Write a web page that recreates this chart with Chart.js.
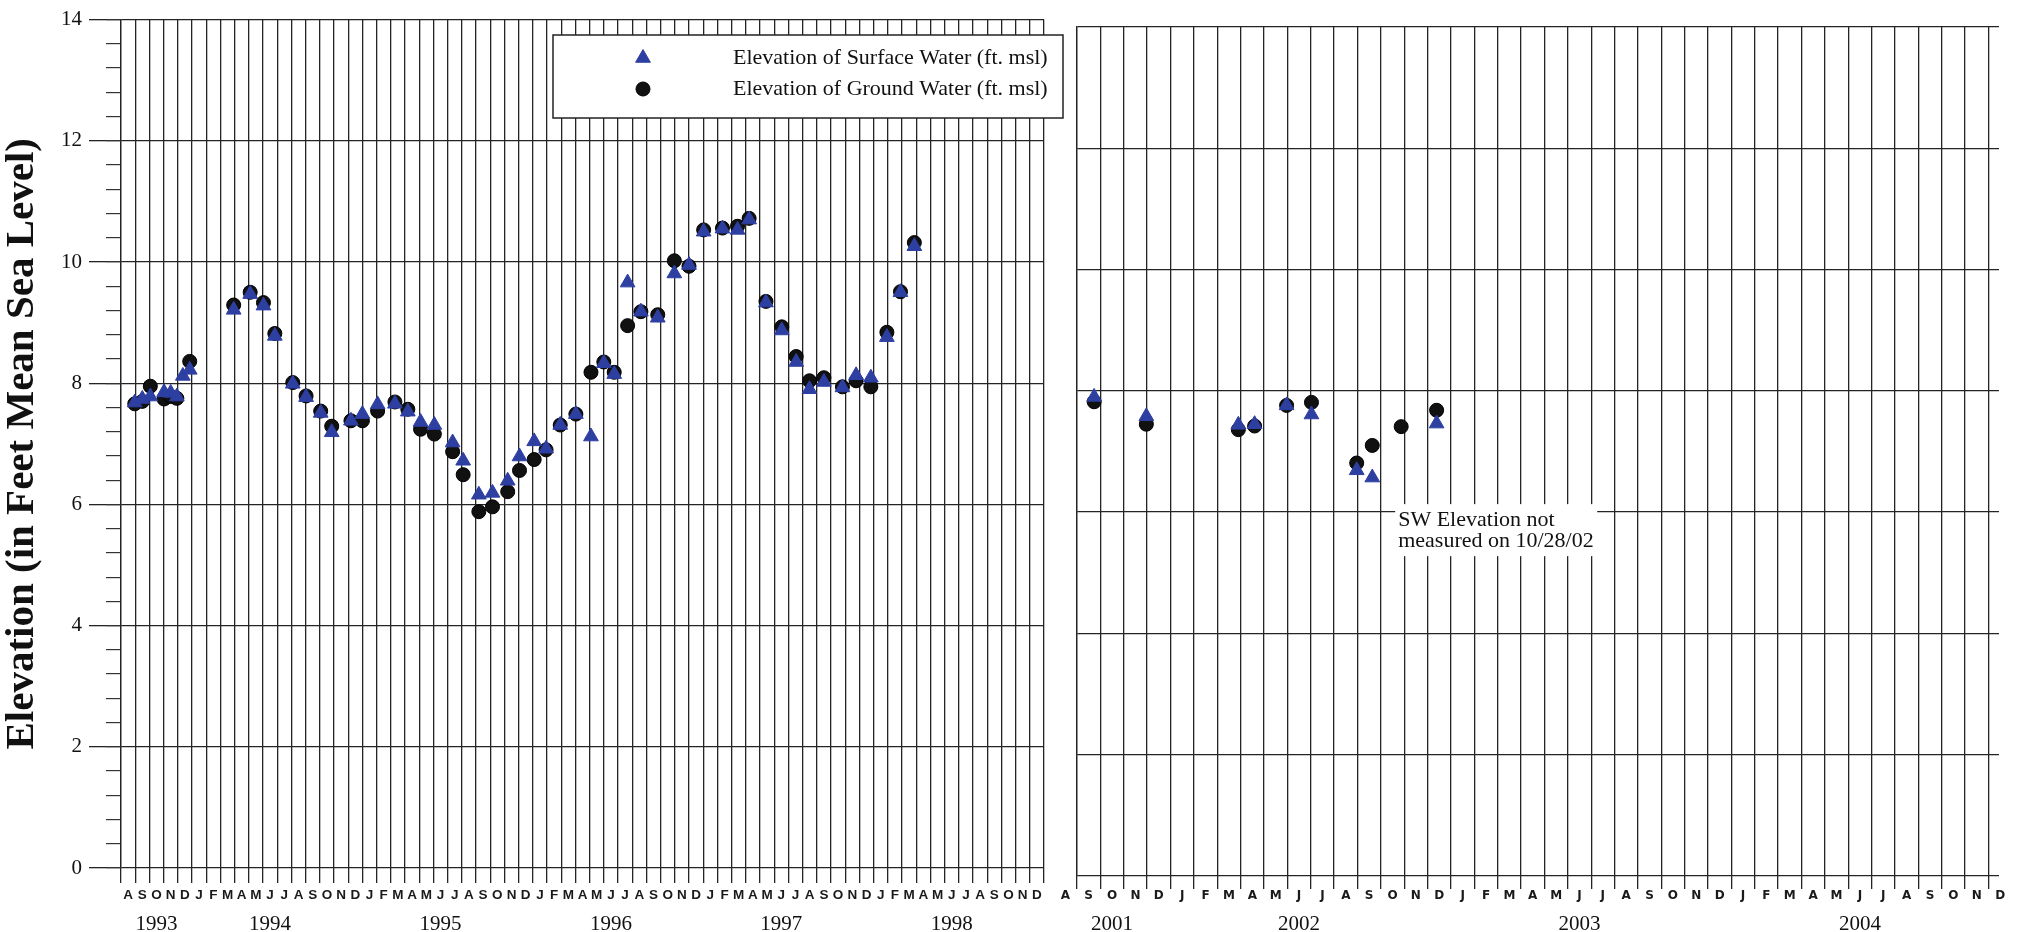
<!DOCTYPE html>
<html>
<head>
<meta charset="utf-8">
<script src="https://cdn.jsdelivr.net/npm/chart.js@4.4.1/dist/chart.umd.min.js"></script>
<style>
html,body{margin:0;padding:0;background:#fff;}
#wrap{position:relative;width:2017px;height:932px;overflow:hidden;background:#fff;}
#c1{position:absolute;left:0;top:0;}
#c2{position:absolute;left:1040px;top:0;}
</style>
</head>
<body>
<div id="wrap">
<canvas id="c1" width="1075" height="932"></canvas>
<canvas id="c2" width="977" height="932"></canvas>
</div>
<script>
// ================= DATA =================
const seriesLabels = ['Elevation of Surface Water (ft. msl)', 'Elevation of Ground Water (ft. msl)'];
const yAxisTitle = 'Elevation (in Feet Mean Sea Level)';
const monthLetters = ['J','F','M','A','M','J','J','A','S','O','N','D'];
const yMin = 0, yMax = 14, yStep = 2, yMinorStep = 0.4;

// Panel 1: Aug 1993 – Dec 1998
const p1Origin = '1993-08';
const p1MonthCount = 65;
const p1Years = ['1993', '1994', '1995', '1996', '1997', '1998'];
const p1YearMonths = ['1993-10', '1994-06', '1995-06', '1996-06', '1997-06', '1998-06'];
const p1Dates = [
  '1993-08-31','1993-09-16','1993-10-03','1993-11-02','1993-11-16','1993-11-29','1993-12-12','1993-12-27',
  '1994-03-30','1994-05-04','1994-06-02','1994-06-26','1994-08-04','1994-09-02','1994-10-03','1994-10-27','1994-12-07',
  '1995-01-01','1995-02-03','1995-03-10','1995-04-07','1995-05-04','1995-06-03','1995-07-12','1995-08-04','1995-09-07','1995-10-06','1995-11-08','1995-12-03',
  '1996-01-04','1996-01-30','1996-02-28','1996-04-02','1996-05-04','1996-06-01','1996-06-23','1996-07-22','1996-08-20','1996-09-25','1996-10-31','1996-12-01',
  '1997-01-02','1997-02-11','1997-03-14','1997-04-08','1997-05-14','1997-06-17','1997-07-18','1997-08-16','1997-09-16','1997-10-26','1997-11-24','1997-12-26',
  '1998-01-30','1998-02-26','1998-03-28'
];
const p1Surface = [
  7.68, 7.74, 7.78, 7.85, 7.84, 7.78, 8.12, 8.22,
  9.21, 9.47, 9.28, 8.78, 7.99, 7.77, 7.51, 7.19, 7.38,
  7.49, 7.65, 7.66, 7.53, 7.36, 7.31, 7.02, 6.72, 6.16, 6.19, 6.39, 6.79,
  7.04, 6.92, 7.31, 7.49, 7.12, 8.33, 8.15, 9.66, 9.18, 9.08, 9.81, 9.95,
  10.50, 10.55, 10.53, 10.70, 9.33, 8.87, 8.35, 7.90, 8.02, 7.93, 8.13, 8.09,
  8.76, 9.50, 10.26
];
const p1Ground = [
  7.66, 7.70, 7.95, 7.74, 7.78, 7.75, null, 8.36,
  9.29, 9.50, 9.33, 8.82, 8.01, 7.79, 7.54, 7.29, 7.38,
  7.38, 7.54, 7.69, 7.57, 7.24, 7.16, 6.87, 6.49, 5.88, 5.96, 6.21, 6.56,
  6.74, 6.90, 7.31, 7.49, 8.18, 8.35, 8.18, 8.95, 9.18, 9.13, 10.02, 9.93,
  10.53, 10.56, 10.59, 10.72, 9.35, 8.93, 8.44, 8.04, 8.09, 7.94, 8.04, 7.94,
  8.84, 9.51, 10.32
];

// Panel 2: Aug 2001 – Dec 2004
const p2Origin = '2001-08';
const p2MonthCount = 41;
const p2Years = ['2001', '2002', '2003', '2004'];
const p2YearMonths = ['2001-10', '2002-06', '2003-06', '2004-06'];
const p2Dates = ['2001-09-23','2001-11-30','2002-03-29','2002-04-19','2002-05-31','2002-07-02','2002-08-31','2002-09-20','2002-10-28','2002-12-13'];
const p2Surface = [7.90, 7.58, 7.44, 7.45, 7.76, 7.61, 6.69, 6.57, null, 7.46];
const p2Ground  = [7.82, 7.45, 7.36, 7.42, 7.76, 7.81, 6.81, 7.10, 7.41, 7.68];
const noteLines = ['SW Elevation not', 'measured on 10/28/02'];
const noteDate = '2002-10-28';
const noteLevel = 6;

// ================= HELPERS =================
const SW_COLOR = '#2e3fa2';
const GW_COLOR = '#111111';
const GRID = '#242424';

function monthsFrom(origin, s) {
  const [oy, om] = origin.split('-').map(Number);
  const p = s.split('-').map(Number);
  const dim = new Date(p[0], p[1], 0).getDate();
  const d = p.length > 2 ? p[2] : 1;
  return (p[0] - oy) * 12 + (p[1] - om) + (d - 1) / dim;
}
function monthTicks(origin, count) {
  const om = Number(origin.split('-')[1]) - 1;
  const vals = [], labs = [];
  for (let i = 0; i < count; i++) { vals.push(i + 0.5); labs.push(monthLetters[(om + i) % 12]); }
  return {vals, labs};
}
function makeDatasets(origin, dates, sw, gw) {
  const pts = vals => dates.map((d, i) => vals[i] == null ? null : {x: monthsFrom(origin, d), y: vals[i]}).filter(Boolean);
  return [
    {label: seriesLabels[0], data: pts(sw), pointStyle: 'triangle', pointRadius: 8.5,
     backgroundColor: SW_COLOR, borderColor: SW_COLOR, borderWidth: 1},
    {label: seriesLabels[1], data: pts(gw), pointStyle: 'circle', pointRadius: 7,
     backgroundColor: GW_COLOR, borderColor: '#000', borderWidth: 1}
  ];
}

const legendPlugin = {
  id: 'boxLegend',
  afterDraw(chart) {
    const ctx = chart.ctx;
    const x0 = 553, y0 = 35, w = 510, h = 83;
    ctx.save();
    ctx.fillStyle = '#fff';
    ctx.fillRect(x0, y0, w, h);
    ctx.strokeStyle = '#222';
    ctx.lineWidth = 1.5;
    ctx.strokeRect(x0, y0, w, h);
    chart.data.datasets.forEach((ds, i) => {
      const cy = y0 + 23 + i * 31;
      ctx.fillStyle = ds.backgroundColor;
      ctx.strokeStyle = ds.borderColor;
      ctx.lineWidth = 1;
      Chart.helpers.drawPoint(ctx, {pointStyle: ds.pointStyle, rotation: 0, radius: ds.pointRadius, borderWidth: 1}, 643, cy);
      ctx.fillStyle = '#111';
      ctx.font = '22px "Liberation Serif"';
      ctx.textBaseline = 'middle';
      ctx.textAlign = 'left';
      ctx.fillText(ds.label, 733, cy);
    });
    ctx.restore();
  }
};

const notePlugin = {
  id: 'note',
  beforeDatasetsDraw(chart) {
    const {ctx, scales} = chart;
    const px = scales.x.getPixelForValue(monthsFrom(p2Origin, noteDate)) - 3;
    const py = scales.y.getPixelForValue(noteLevel);
    ctx.save();
    ctx.fillStyle = '#fff';
    ctx.fillRect(px - 3, py - 8, 202, 52);
    ctx.fillStyle = '#111';
    ctx.font = '22px "Liberation Serif"';
    ctx.textBaseline = 'middle';
    ctx.textAlign = 'left';
    noteLines.forEach((t, i) => ctx.fillText(t, px, py + 8 + i * 21));
    ctx.restore();
  }
};

// ================= PANEL 1 =================
const p1T = monthTicks(p1Origin, p1MonthCount);
const p1YearTicks = p1YearMonths.map(m => monthsFrom(p1Origin, m) + 0.5);

new Chart(document.getElementById('c1'), {
  type: 'scatter',
  data: {datasets: makeDatasets(p1Origin, p1Dates, p1Surface, p1Ground)},
  options: {
    responsive: false, animation: false, devicePixelRatio: 1, events: [],
    layout: {padding: {top: 15, right: 31, left: 0, bottom: 0}},
    plugins: {legend: {display: false}, tooltip: {enabled: false}},
    scales: {
      x: {
        type: 'linear', position: 'bottom', min: 0, max: p1MonthCount, weight: 0,
        afterBuildTicks: s => { s.ticks = p1T.vals.map(v => ({value: v})); },
        ticks: {autoSkip: false, maxRotation: 0, padding: 4, color: '#1a1a1a',
                font: {family: 'Liberation Sans', size: 13.5, weight: 'bold'},
                callback: (v, i) => p1T.labs[i]},
        grid: {offset: true, color: GRID, lineWidth: 1.3, tickLength: 15, tickColor: GRID, tickWidth: 1.3},
        border: {display: false},
        afterFit: s => { s.height = 36; }
      },
      x2: {
        type: 'linear', axis: 'x', position: 'bottom', min: 0, max: p1MonthCount, weight: 1,
        afterBuildTicks: s => { s.ticks = p1YearTicks.map(v => ({value: v})); },
        ticks: {autoSkip: false, maxRotation: 0, padding: 0, color: '#111',
                font: {family: 'Liberation Serif', size: 21},
                callback: (v, i) => p1Years[i]},
        grid: {display: false}, border: {display: false},
        afterFit: s => { s.height = 28; }
      },
      y: {
        type: 'linear', position: 'left', min: yMin, max: yMax, weight: 1,
        ticks: {stepSize: yStep, padding: 7, color: '#111', font: {family: 'Liberation Serif', size: 21}},
        grid: {color: GRID, lineWidth: 1.3, tickLength: 32, tickColor: GRID},
        border: {display: true, color: GRID, width: 1.3},
        title: {display: true, text: yAxisTitle, color: '#111', padding: {top: 2, bottom: 0},
                font: {family: 'Liberation Serif', size: 41, weight: 'bold', lineHeight: 1.0}},
        afterFit: s => { s.width = 121; }
      },
      yMinor: {
        type: 'linear', axis: 'y', position: 'left', min: yMin, max: yMax, weight: 0,
        ticks: {stepSize: yMinorStep, display: false},
        grid: {drawOnChartArea: false, tickLength: 15, color: '#333', lineWidth: 1.2},
        border: {display: false},
        afterFit: s => { s.width = 0; }
      }
    }
  },
  plugins: [legendPlugin]
});

// ================= PANEL 2 =================
const p2T = monthTicks(p2Origin, p2MonthCount);
const p2YearTicks = p2YearMonths.map(m => monthsFrom(p2Origin, m) + 0.5);

new Chart(document.getElementById('c2'), {
  type: 'scatter',
  data: {datasets: makeDatasets(p2Origin, p2Dates, p2Surface, p2Ground)},
  options: {
    responsive: false, animation: false, devicePixelRatio: 1, events: [],
    layout: {padding: {top: 27, right: 18, left: 37, bottom: 0}},
    plugins: {legend: {display: false}, tooltip: {enabled: false}},
    scales: {
      x: {
        type: 'linear', position: 'bottom', min: 1, max: 40.45, weight: 0,
        afterBuildTicks: s => { s.ticks = p2T.vals.map(v => ({value: v})); },
        ticks: {autoSkip: false, maxRotation: 0, padding: 0, color: '#1a1a1a',
                font: {family: 'DejaVu Sans', size: 12, weight: 'bold'},
                callback: (v, i) => p2T.labs[i]},
        grid: {offset: true, color: GRID, lineWidth: 1.3, tickLength: 13, tickColor: GRID, tickWidth: 1.3},
        border: {display: false},
        afterFit: s => { s.height = 28; }
      },
      x2: {
        type: 'linear', axis: 'x', position: 'bottom', min: 1, max: 40.45, weight: 1,
        afterBuildTicks: s => { s.ticks = p2YearTicks.map(v => ({value: v})); },
        ticks: {autoSkip: false, maxRotation: 0, padding: 0, color: '#111',
                font: {family: 'Liberation Serif', size: 21},
                callback: (v, i) => p2Years[i]},
        grid: {display: false}, border: {display: false},
        afterFit: s => { s.height = 28; }
      },
      y: {
        type: 'linear', position: 'left', min: yMin, max: yMax,
        ticks: {stepSize: yStep, display: false},
        grid: {color: GRID, lineWidth: 1.3, drawTicks: false},
        border: {display: true, color: GRID, width: 1.3},
        afterFit: s => { s.width = 0; }
      }
    }
  },
  plugins: [notePlugin]
});
</script>
</body>
</html>
